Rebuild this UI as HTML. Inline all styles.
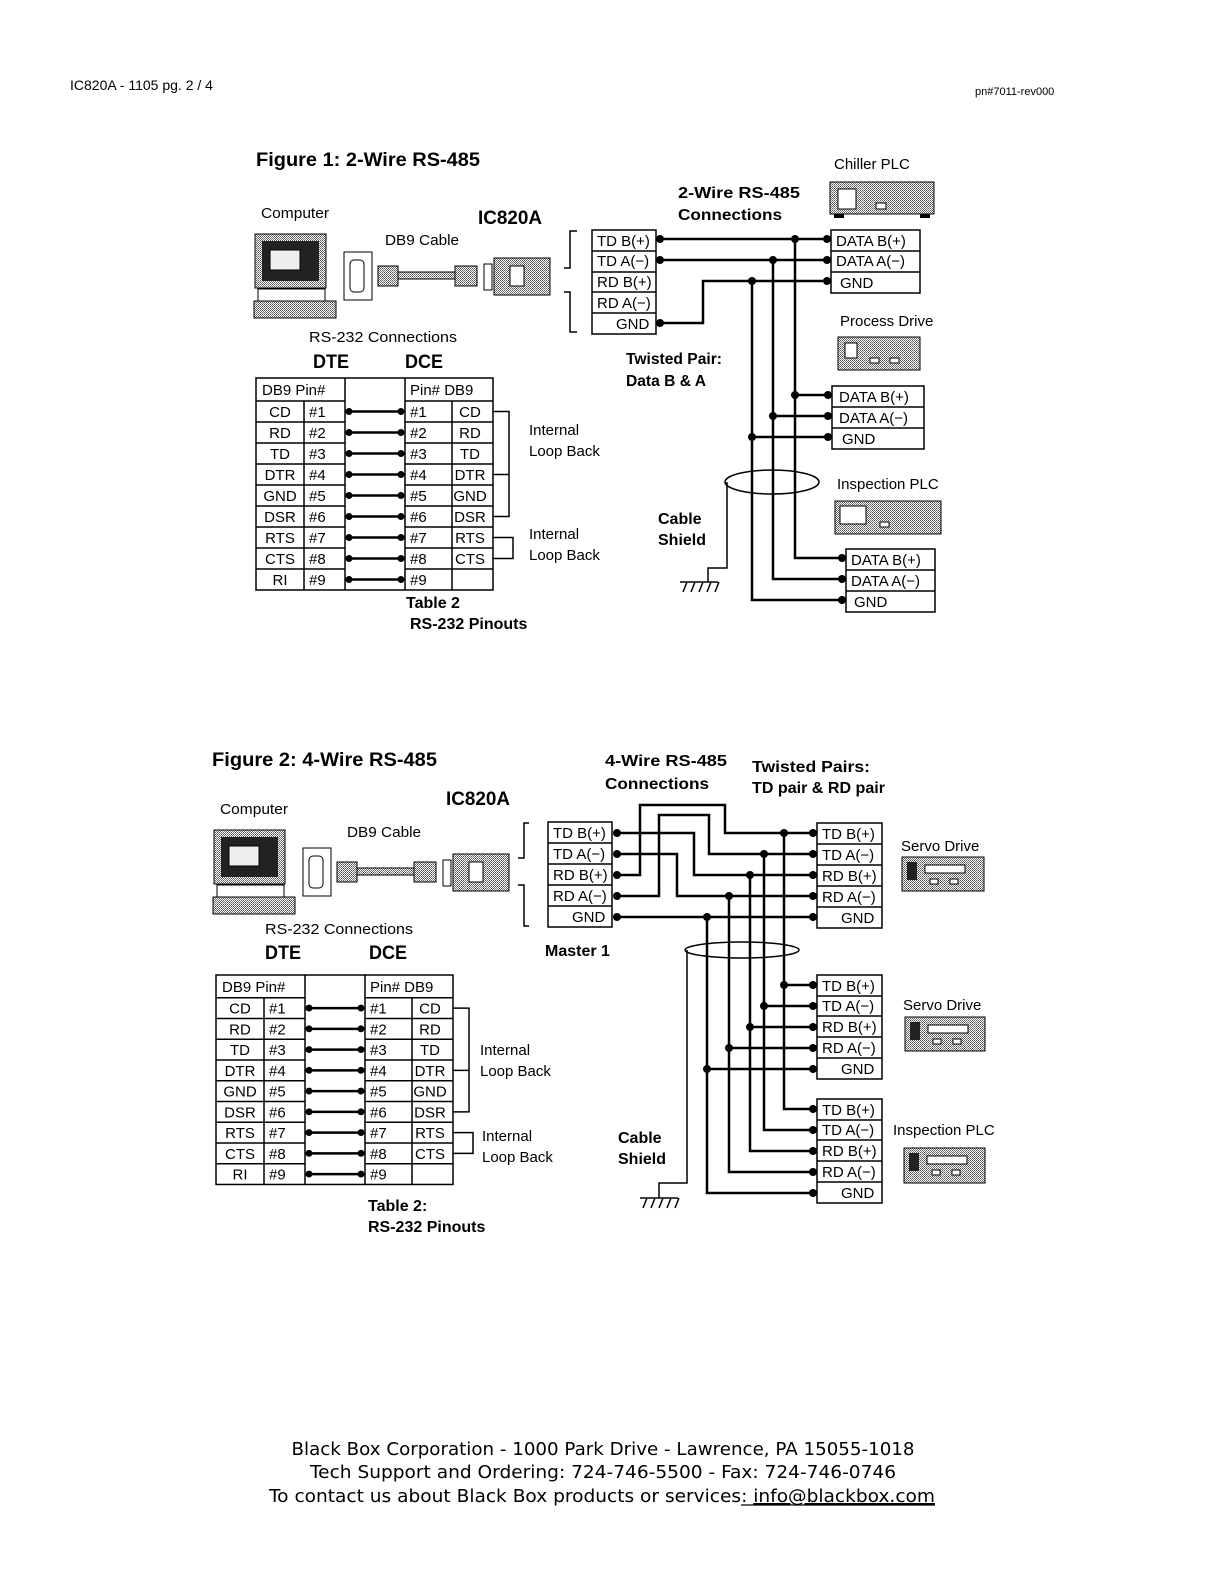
<!DOCTYPE html>
<html><head><meta charset="utf-8"><style>
html,body{margin:0;padding:0;background:#fff;overflow:hidden;width:1224px;height:1584px}
svg{display:block;position:absolute;left:0;top:0}
text{font-family:"Liberation Sans",Arial,sans-serif;fill:#000}
.t{font-size:15px}
.b{font-weight:bold;font-size:16px}
.h{font-weight:bold;font-size:19px}
.w{stroke:#000;stroke-width:2.5;fill:none}
.c{stroke:#000;stroke-width:1.5;fill:#fff}
.l{stroke:#000;stroke-width:1.5;fill:none}
.f{font-family:"DejaVu Sans",Verdana,sans-serif;font-size:18px}
</style></head><body>
<svg width="1224" height="1584" viewBox="0 0 1224 1584" xmlns="http://www.w3.org/2000/svg">
<defs>
<pattern id="g" width="2" height="2" patternUnits="userSpaceOnUse"><rect width="2" height="2" fill="#fff"/><rect width="1" height="1" fill="#555"/><rect x="1" y="1" width="1" height="1" fill="#777"/></pattern>
</defs>
<text x="70" y="90" style="font-size:14px">IC820A  - 1105 pg. 2 / 4</text>
<text x="975" y="95" style="font-size:11px">pn#7011-rev000</text>

<!-- ============ FIGURE 1 ============ -->
<text x="256" y="166" class="h" textLength="224" lengthAdjust="spacingAndGlyphs">Figure 1:  2-Wire RS-485</text>
<text x="478" y="224" class="h" textLength="64" lengthAdjust="spacingAndGlyphs">IC820A</text>

<g>
<text x="261" y="218" class="t" textLength="68" lengthAdjust="spacingAndGlyphs">Computer</text>
<text x="385" y="245" class="t" textLength="74" lengthAdjust="spacingAndGlyphs">DB9 Cable</text>
<rect x="255" y="234" width="71" height="54" fill="url(#g)" stroke="#000"/>
<rect x="262" y="241" width="57" height="40" fill="#222"/>
<rect x="270" y="250" width="30" height="20" fill="#eee" stroke="#000"/>
<rect x="258" y="289" width="67" height="12" fill="#fff" stroke="#000"/>
<rect x="254" y="301" width="82" height="17" fill="url(#g)" stroke="#000"/>
<rect x="344" y="252" width="28" height="48" fill="#fff" stroke="#000"/>
<rect x="350" y="260" width="14" height="32" rx="4" fill="#fff" stroke="#000"/>
<rect x="378" y="266" width="20" height="20" fill="url(#g)" stroke="#000"/>
<rect x="398" y="272" width="57" height="7" fill="url(#g)" stroke="#000"/>
<rect x="455" y="266" width="22" height="20" fill="url(#g)" stroke="#000"/>
<rect x="484" y="264" width="8" height="26" fill="#fff" stroke="#000"/>
<rect x="494" y="258" width="56" height="37" fill="url(#g)" stroke="#000"/>
<rect x="510" y="266" width="14" height="20" fill="#fff" stroke="#000"/>
</g>

<path class="l" d="M577 231H570V268H564M564 292H570V332H577"/>
<rect x="592" y="230" width="64" height="104" class="c"/>
<path class="l" d="M592 251H656M592 272H656M592 292H656M592 313H656"/>
<text x="597" y="246" class="t">TD B(+)</text>
<text x="597" y="266" class="t">TD A(−)</text>
<text x="597" y="287" class="t">RD B(+)</text>
<text x="597" y="308" class="t">RD A(−)</text>
<text x="616" y="329" class="t">GND</text>

<text x="678" y="198" class="b" textLength="122" lengthAdjust="spacingAndGlyphs">2-Wire RS-485</text>
<text x="678" y="220" class="b" textLength="104" lengthAdjust="spacingAndGlyphs">Connections</text>
<text x="834" y="169" class="t">Chiller PLC</text>
<rect x="830" y="182" width="104" height="32" fill="url(#g)" stroke="#000"/>
<rect x="838" y="189" width="18" height="20" fill="#fff" stroke="#000"/>
<rect x="876" y="203" width="10" height="6" fill="#fff" stroke="#000"/>
<rect x="834" y="214" width="10" height="4" fill="#000"/><rect x="920" y="214" width="10" height="4" fill="#000"/>

<rect x="831" y="230" width="89" height="63" class="c"/>
<path class="l" d="M831 251H920M831 272H920"/>
<text x="836" y="246" class="t">DATA B(+)</text>
<text x="836" y="266" class="t">DATA A(−)</text>
<text x="840" y="288" class="t">GND</text>

<text x="840" y="326" class="t">Process Drive</text>
<rect x="838" y="337" width="82" height="33" fill="url(#g)" stroke="#000"/>
<rect x="845" y="343" width="12" height="15" fill="#fff" stroke="#000"/>
<rect x="870" y="358" width="9" height="5" fill="#fff" stroke="#000"/><rect x="890" y="358" width="9" height="5" fill="#fff" stroke="#000"/>

<rect x="832" y="386" width="92" height="63" class="c"/>
<path class="l" d="M832 407H924M832 428H924"/>
<text x="839" y="402" class="t">DATA B(+)</text>
<text x="839" y="423" class="t">DATA A(−)</text>
<text x="842" y="444" class="t">GND</text>

<text x="837" y="489" class="t">Inspection PLC</text>
<rect x="835" y="501" width="106" height="33" fill="url(#g)" stroke="#000"/>
<rect x="840" y="506" width="26" height="18" fill="#fff" stroke="#000"/>
<rect x="880" y="522" width="9" height="5" fill="#fff" stroke="#000"/>

<rect x="846" y="549" width="89" height="63" class="c"/>
<path class="l" d="M846 570H935M846 591H935"/>
<text x="851" y="565" class="t">DATA B(+)</text>
<text x="851" y="586" class="t">DATA A(−)</text>
<text x="854" y="607" class="t">GND</text>

<path class="w" d="M660 239H830M660 260H830M660 323H703V281H830"/>
<path class="w" d="M795 239V558H846M773 260V579H846M752 281V600H846"/>
<path class="w" d="M795 395H832M773 416H832M752 437H832"/>
<g fill="#000">
<circle cx="660" cy="239" r="4"/><circle cx="660" cy="260" r="4"/><circle cx="660" cy="323" r="4"/>
<circle cx="795" cy="239" r="4"/><circle cx="773" cy="260" r="4"/><circle cx="752" cy="281" r="4"/>
<circle cx="827" cy="239" r="4"/><circle cx="827" cy="260" r="4"/><circle cx="827" cy="281" r="4"/>
<circle cx="795" cy="395" r="4"/><circle cx="773" cy="416" r="4"/><circle cx="752" cy="437" r="4"/>
<circle cx="828" cy="395" r="4"/><circle cx="828" cy="416" r="4"/><circle cx="828" cy="437" r="4"/>
<circle cx="842" cy="558" r="4"/><circle cx="842" cy="579" r="4"/><circle cx="842" cy="600" r="4"/>
</g>
<ellipse cx="772" cy="482" rx="47" ry="12" class="l" stroke-width="2"/>
<path class="l" stroke-width="2" d="M727 482V568H708V582"/>
<path class="l" stroke-width="2" d="M680 582H718M683 592L687 582M691 592L695 582M699 592L703 582M707 592L711 582M715 592L719 582"/>
<text x="626" y="364" class="b" textLength="96" lengthAdjust="spacingAndGlyphs">Twisted Pair:</text>
<text x="626" y="386" class="b" textLength="80" lengthAdjust="spacingAndGlyphs">Data B &amp; A</text>
<text x="658" y="524" class="b">Cable</text>
<text x="658" y="545" class="b">Shield</text>

<text x="309" y="342" class="t" textLength="148" lengthAdjust="spacingAndGlyphs">RS-232 Connections</text>
<text x="313" y="368" class="h" textLength="36" lengthAdjust="spacingAndGlyphs">DTE</text>
<text x="405" y="368" class="h" textLength="38" lengthAdjust="spacingAndGlyphs">DCE</text>

<g>
<rect x="256" y="378" width="237" height="212" class="c"/>
<path class="l" d="M304 401V590M345 378V590M405 378V590M452 401V590"/>
<path class="l" d="M256 401H345M256 422H345M256 443H345M256 464H345M256 485H345M256 506H345M256 527H345M256 548H345M256 569H345"/>
<path class="l" d="M405 401H493M405 422H493M405 443H493M405 464H493M405 485H493M405 506H493M405 527H493M405 548H493M405 569H493"/>
<text x="262" y="395" class="t">DB9  Pin#</text>
<text x="410" y="395" class="t">Pin#  DB9</text>
<g class="t" text-anchor="middle">
<text x="280" y="417">CD</text><text x="280" y="438">RD</text><text x="280" y="459">TD</text><text x="280" y="480">DTR</text><text x="280" y="501">GND</text><text x="280" y="522">DSR</text><text x="280" y="543">RTS</text><text x="280" y="564">CTS</text><text x="280" y="585">RI</text>
<text x="470" y="417">CD</text><text x="470" y="438">RD</text><text x="470" y="459">TD</text><text x="470" y="480">DTR</text><text x="470" y="501">GND</text><text x="470" y="522">DSR</text><text x="470" y="543">RTS</text><text x="470" y="564">CTS</text>
</g>
<g class="t">
<text x="309" y="417">#1</text><text x="309" y="438">#2</text><text x="309" y="459">#3</text><text x="309" y="480">#4</text><text x="309" y="501">#5</text><text x="309" y="522">#6</text><text x="309" y="543">#7</text><text x="309" y="564">#8</text><text x="309" y="585">#9</text>
<text x="410" y="417">#1</text><text x="410" y="438">#2</text><text x="410" y="459">#3</text><text x="410" y="480">#4</text><text x="410" y="501">#5</text><text x="410" y="522">#6</text><text x="410" y="543">#7</text><text x="410" y="564">#8</text><text x="410" y="585">#9</text>
</g>
<path class="w" d="M348 411.5H402M348 432.5H402M348 453.5H402M348 474.5H402M348 495.5H402M348 516.5H402M348 537.5H402M348 558.5H402M348 579.5H402"/>
<g fill="#000">
<circle cx="349" cy="411.5" r="3.5"/><circle cx="349" cy="432.5" r="3.5"/><circle cx="349" cy="453.5" r="3.5"/><circle cx="349" cy="474.5" r="3.5"/><circle cx="349" cy="495.5" r="3.5"/><circle cx="349" cy="516.5" r="3.5"/><circle cx="349" cy="537.5" r="3.5"/><circle cx="349" cy="558.5" r="3.5"/><circle cx="349" cy="579.5" r="3.5"/>
<circle cx="401" cy="411.5" r="3.5"/><circle cx="401" cy="432.5" r="3.5"/><circle cx="401" cy="453.5" r="3.5"/><circle cx="401" cy="474.5" r="3.5"/><circle cx="401" cy="495.5" r="3.5"/><circle cx="401" cy="516.5" r="3.5"/><circle cx="401" cy="537.5" r="3.5"/><circle cx="401" cy="558.5" r="3.5"/><circle cx="401" cy="579.5" r="3.5"/>
</g>
<path class="l" stroke-width="2.5" d="M493 411.5H509V516.5H493M493 474.5H509M493 537.5H513V558.5H493"/>
</g>
<text x="529" y="435" class="t">Internal</text>
<text x="529" y="456" class="t">Loop Back</text>
<text x="529" y="539" class="t">Internal</text>
<text x="529" y="560" class="t">Loop Back</text>
<text x="406" y="608" class="b">Table 2</text>
<text x="410" y="629" class="b">RS-232 Pinouts</text>

<!-- ============ FIGURE 2 ============ -->
<text x="212" y="766" class="h" textLength="225" lengthAdjust="spacingAndGlyphs">Figure 2:  4-Wire RS-485</text>
<text x="446" y="805" class="h" textLength="64" lengthAdjust="spacingAndGlyphs">IC820A</text>

<g transform="translate(-41,596)">
<text x="261" y="218" class="t" textLength="68" lengthAdjust="spacingAndGlyphs">Computer</text>
<text x="388" y="241" class="t" textLength="74" lengthAdjust="spacingAndGlyphs">DB9 Cable</text>
<rect x="255" y="234" width="71" height="54" fill="url(#g)" stroke="#000"/>
<rect x="262" y="241" width="57" height="40" fill="#222"/>
<rect x="270" y="250" width="30" height="20" fill="#eee" stroke="#000"/>
<rect x="258" y="289" width="67" height="12" fill="#fff" stroke="#000"/>
<rect x="254" y="301" width="82" height="17" fill="url(#g)" stroke="#000"/>
<rect x="344" y="252" width="28" height="48" fill="#fff" stroke="#000"/>
<rect x="350" y="260" width="14" height="32" rx="4" fill="#fff" stroke="#000"/>
<rect x="378" y="266" width="20" height="20" fill="url(#g)" stroke="#000"/>
<rect x="398" y="272" width="57" height="7" fill="url(#g)" stroke="#000"/>
<rect x="455" y="266" width="22" height="20" fill="url(#g)" stroke="#000"/>
<rect x="484" y="264" width="8" height="26" fill="#fff" stroke="#000"/>
<rect x="494" y="258" width="56" height="37" fill="url(#g)" stroke="#000"/>
<rect x="510" y="266" width="14" height="20" fill="#fff" stroke="#000"/>
</g>

<path class="l" d="M529 823H524V858H518M518 885H524V926H529"/>
<rect x="548" y="822" width="64" height="105" class="c"/>
<path class="l" d="M548 843H612M548 864H612M548 885H612M548 906H612"/>
<text x="553" y="838" class="t">TD B(+)</text>
<text x="553" y="859" class="t">TD A(−)</text>
<text x="553" y="880" class="t">RD B(+)</text>
<text x="553" y="901" class="t">RD A(−)</text>
<text x="572" y="922" class="t">GND</text>
<text x="545" y="956" class="b">Master 1</text>

<text x="605" y="766" class="b" textLength="122" lengthAdjust="spacingAndGlyphs">4-Wire RS-485</text>
<text x="605" y="789" class="b" textLength="104" lengthAdjust="spacingAndGlyphs">Connections</text>
<text x="752" y="772" class="b" textLength="118" lengthAdjust="spacingAndGlyphs">Twisted Pairs:</text>
<text x="752" y="793" class="b" textLength="133" lengthAdjust="spacingAndGlyphs">TD pair &amp; RD pair</text>

<rect x="817" y="823" width="65" height="105" class="c"/>
<path class="l" d="M817 844H882M817 865H882M817 886H882M817 907H882"/>
<text x="822" y="839" class="t">TD B(+)</text><text x="822" y="860" class="t">TD A(−)</text><text x="822" y="881" class="t">RD B(+)</text><text x="822" y="902" class="t">RD A(−)</text><text x="841" y="923" class="t">GND</text>
<rect x="817" y="975" width="65" height="104" class="c"/>
<path class="l" d="M817 996H882M817 1016H882M817 1037H882M817 1058H882"/>
<text x="822" y="991" class="t">TD B(+)</text><text x="822" y="1011" class="t">TD A(−)</text><text x="822" y="1032" class="t">RD B(+)</text><text x="822" y="1053" class="t">RD A(−)</text><text x="841" y="1074" class="t">GND</text>
<rect x="817" y="1099" width="65" height="104" class="c"/>
<path class="l" d="M817 1120H882M817 1140H882M817 1161H882M817 1182H882"/>
<text x="822" y="1115" class="t">TD B(+)</text><text x="822" y="1135" class="t">TD A(−)</text><text x="822" y="1156" class="t">RD B(+)</text><text x="822" y="1177" class="t">RD A(−)</text><text x="841" y="1198" class="t">GND</text>

<text x="901" y="851" class="t">Servo Drive</text>
<rect x="902" y="857" width="82" height="34" fill="url(#g)" stroke="#000"/>
<rect x="907" y="862" width="10" height="18" fill="#222"/><rect x="925" y="865" width="40" height="8" fill="#fff" stroke="#000"/>
<rect x="930" y="879" width="8" height="5" fill="#fff" stroke="#000"/><rect x="950" y="879" width="8" height="5" fill="#fff" stroke="#000"/>
<text x="903" y="1010" class="t">Servo Drive</text>
<rect x="905" y="1017" width="80" height="34" fill="url(#g)" stroke="#000"/>
<rect x="910" y="1022" width="10" height="18" fill="#222"/><rect x="928" y="1025" width="40" height="8" fill="#fff" stroke="#000"/>
<rect x="933" y="1039" width="8" height="5" fill="#fff" stroke="#000"/><rect x="953" y="1039" width="8" height="5" fill="#fff" stroke="#000"/>
<text x="893" y="1135" class="t">Inspection PLC</text>
<rect x="904" y="1148" width="81" height="35" fill="url(#g)" stroke="#000"/>
<rect x="909" y="1153" width="10" height="18" fill="#222"/><rect x="927" y="1156" width="40" height="8" fill="#fff" stroke="#000"/>
<rect x="932" y="1170" width="8" height="5" fill="#fff" stroke="#000"/><rect x="952" y="1170" width="8" height="5" fill="#fff" stroke="#000"/>

<path class="w" d="M616 833H694V875H817M616 854H677V896H817M616 875H640V805H725V833H817M616 896H659V815H709V854H817M616 917H817"/>
<path class="w" d="M784 833V1109H817M764 854V1130H817M750 875V1151H817M729 896V1172H817M707 917V1193H817"/>
<path class="w" d="M784 985H817M764 1006H817M750 1027H817M729 1048H817M707 1069H817"/>
<g fill="#000">
<circle cx="617" cy="833" r="4"/><circle cx="617" cy="854" r="4"/><circle cx="617" cy="875" r="4"/><circle cx="617" cy="896" r="4"/><circle cx="617" cy="917" r="4"/>
<circle cx="784" cy="833" r="4"/><circle cx="764" cy="854" r="4"/><circle cx="750" cy="875" r="4"/><circle cx="729" cy="896" r="4"/><circle cx="707" cy="917" r="4"/>
<circle cx="784" cy="985" r="4"/><circle cx="764" cy="1006" r="4"/><circle cx="750" cy="1027" r="4"/><circle cx="729" cy="1048" r="4"/><circle cx="707" cy="1069" r="4"/>
<circle cx="813" cy="833" r="4"/><circle cx="813" cy="854" r="4"/><circle cx="813" cy="875" r="4"/><circle cx="813" cy="896" r="4"/><circle cx="813" cy="917" r="4"/>
<circle cx="813" cy="985" r="4"/><circle cx="813" cy="1006" r="4"/><circle cx="813" cy="1027" r="4"/><circle cx="813" cy="1048" r="4"/><circle cx="813" cy="1069" r="4"/>
<circle cx="813" cy="1109" r="4"/><circle cx="813" cy="1130" r="4"/><circle cx="813" cy="1151" r="4"/><circle cx="813" cy="1172" r="4"/><circle cx="813" cy="1193" r="4"/>
</g>
<ellipse cx="742" cy="950" rx="57" ry="8" class="l" stroke-width="2"/>
<path class="l" stroke-width="2" d="M687 950V1183H659V1198"/>
<path class="l" stroke-width="2" d="M640 1198H678M643 1208L647 1198M651 1208L655 1198M659 1208L663 1198M667 1208L671 1198M675 1208L679 1198"/>
<text x="618" y="1143" class="b">Cable</text>
<text x="618" y="1164" class="b">Shield</text>

<text x="265" y="934" class="t" textLength="148" lengthAdjust="spacingAndGlyphs">RS-232 Connections</text>
<text x="265" y="959" class="h" textLength="36" lengthAdjust="spacingAndGlyphs">DTE</text>
<text x="369" y="959" class="h" textLength="38" lengthAdjust="spacingAndGlyphs">DCE</text>

<g transform="translate(-40,597) translate(0,378) scale(1,0.988) translate(0,-378)">
<rect x="256" y="378" width="237" height="212" class="c"/>
<path class="l" d="M304 401V590M345 378V590M405 378V590M452 401V590"/>
<path class="l" d="M256 401H345M256 422H345M256 443H345M256 464H345M256 485H345M256 506H345M256 527H345M256 548H345M256 569H345"/>
<path class="l" d="M405 401H493M405 422H493M405 443H493M405 464H493M405 485H493M405 506H493M405 527H493M405 548H493M405 569H493"/>
<text x="262" y="395" class="t">DB9  Pin#</text>
<text x="410" y="395" class="t">Pin#  DB9</text>
<g class="t" text-anchor="middle">
<text x="280" y="417">CD</text><text x="280" y="438">RD</text><text x="280" y="459">TD</text><text x="280" y="480">DTR</text><text x="280" y="501">GND</text><text x="280" y="522">DSR</text><text x="280" y="543">RTS</text><text x="280" y="564">CTS</text><text x="280" y="585">RI</text>
<text x="470" y="417">CD</text><text x="470" y="438">RD</text><text x="470" y="459">TD</text><text x="470" y="480">DTR</text><text x="470" y="501">GND</text><text x="470" y="522">DSR</text><text x="470" y="543">RTS</text><text x="470" y="564">CTS</text>
</g>
<g class="t">
<text x="309" y="417">#1</text><text x="309" y="438">#2</text><text x="309" y="459">#3</text><text x="309" y="480">#4</text><text x="309" y="501">#5</text><text x="309" y="522">#6</text><text x="309" y="543">#7</text><text x="309" y="564">#8</text><text x="309" y="585">#9</text>
<text x="410" y="417">#1</text><text x="410" y="438">#2</text><text x="410" y="459">#3</text><text x="410" y="480">#4</text><text x="410" y="501">#5</text><text x="410" y="522">#6</text><text x="410" y="543">#7</text><text x="410" y="564">#8</text><text x="410" y="585">#9</text>
</g>
<path class="w" d="M348 411.5H402M348 432.5H402M348 453.5H402M348 474.5H402M348 495.5H402M348 516.5H402M348 537.5H402M348 558.5H402M348 579.5H402"/>
<g fill="#000">
<circle cx="349" cy="411.5" r="3.5"/><circle cx="349" cy="432.5" r="3.5"/><circle cx="349" cy="453.5" r="3.5"/><circle cx="349" cy="474.5" r="3.5"/><circle cx="349" cy="495.5" r="3.5"/><circle cx="349" cy="516.5" r="3.5"/><circle cx="349" cy="537.5" r="3.5"/><circle cx="349" cy="558.5" r="3.5"/><circle cx="349" cy="579.5" r="3.5"/>
<circle cx="401" cy="411.5" r="3.5"/><circle cx="401" cy="432.5" r="3.5"/><circle cx="401" cy="453.5" r="3.5"/><circle cx="401" cy="474.5" r="3.5"/><circle cx="401" cy="495.5" r="3.5"/><circle cx="401" cy="516.5" r="3.5"/><circle cx="401" cy="537.5" r="3.5"/><circle cx="401" cy="558.5" r="3.5"/><circle cx="401" cy="579.5" r="3.5"/>
</g>
<path class="l" stroke-width="2.5" d="M493 411.5H509V516.5H493M493 474.5H509M493 537.5H513V558.5H493"/>
</g>
<text x="480" y="1055" class="t">Internal</text>
<text x="480" y="1076" class="t">Loop Back</text>
<text x="482" y="1141" class="t">Internal</text>
<text x="482" y="1162" class="t">Loop Back</text>
<text x="368" y="1211" class="b">Table 2:</text>
<text x="368" y="1232" class="b">RS-232 Pinouts</text>

<!-- footer -->
<text x="603" y="1455" class="f" text-anchor="middle" textLength="623" lengthAdjust="spacingAndGlyphs">Black Box Corporation - 1000 Park Drive - Lawrence, PA 15055-1018</text>
<text x="603" y="1478" class="f" text-anchor="middle" textLength="586" lengthAdjust="spacingAndGlyphs">Tech Support and Ordering: 724-746-5500 - Fax: 724-746-0746</text>
<text x="269" y="1502" class="f" textLength="666" lengthAdjust="spacingAndGlyphs">To contact us about Black Box products or services: <tspan text-decoration="underline">info@blackbox.com</tspan></text>
<line x1="741" y1="1505" x2="935" y2="1505" stroke="#000" stroke-width="1.2"/>
</svg>
</body></html>
